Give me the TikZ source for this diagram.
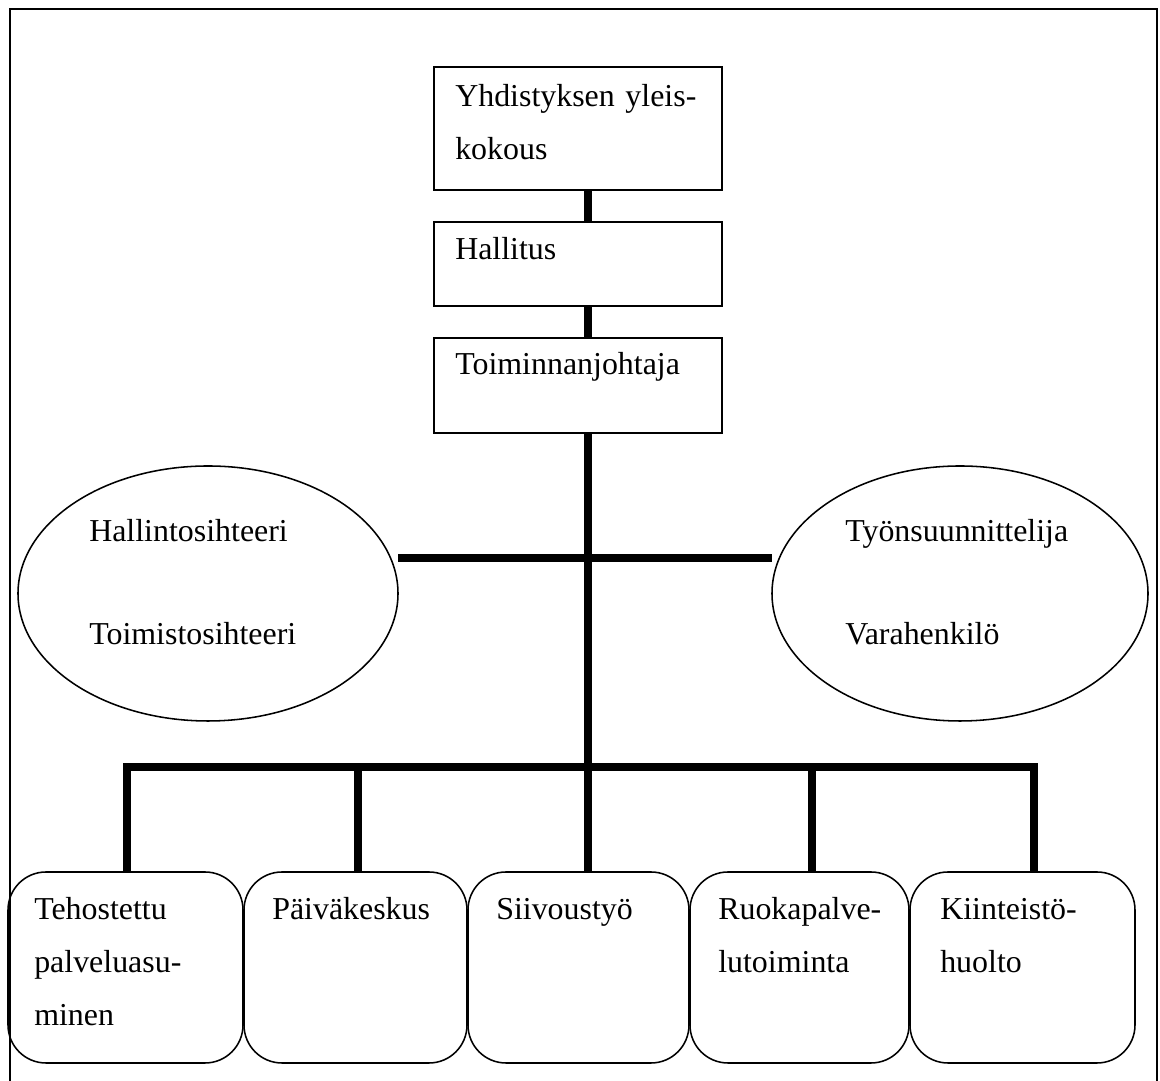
\documentclass[tikz,border=0pt]{standalone}
\usepackage{fontspec}
\setmainfont{Liberation Serif}
\usepackage{tikz}
\usetikzlibrary{positioning}
\usetikzlibrary{shapes.geometric}

\begin{document}
\begin{tikzpicture}[
  every node/.style={font=\fontsize{22.7}{37.7}\selectfont},
  plainbox/.style={draw,line width=1.1pt,inner sep=0pt},
  roundbox/.style={draw,line width=1.1pt,inner sep=0pt,rounded corners=0.95cm,minimum height=4.775cm},
  oval/.style={draw,ellipse,line width=1.1pt,inner sep=0pt,minimum height=6.375cm},
  txt/.style={anchor=base west,align=left,inner sep=0pt,text width=7cm},
  conn/.style={line width=5.3pt}
]
  \useasboundingbox (0,0) rectangle (29,27.025);

  % page frame
  \draw[line width=2.1pt] (0.25,0) -- (0.25,26.8) -- (28.925,26.8) -- (28.925,0);

  \node at (14.45,23.8125) [plainbox,minimum width=7.2cm,minimum height=3.075cm] (kokous) {};
  \node at (14.45,20.425) [plainbox,minimum width=7.2cm,minimum height=2.1cm] (hallitus) {};
  \node at (14.45,17.3875) [plainbox,minimum width=7.2cm,minimum height=2.375cm] (johtaja) {};

  \node at (11.375,24.35) [txt] (kokous-txt) {Yhdistyksen yleis-\\kokous};
  \node at (11.375,20.525) [txt] (hallitus-txt) {Hallitus};
  \node at (11.375,17.65) [txt] (johtaja-txt) {Toiminnanjohtaja};

  % staff ovals
  \node at (5.2,12.1875) [oval,minimum width=9.5cm] (hallinto) {};
  \node at (24,12.1875) [oval,minimum width=9.4cm] (tyon) {};

  \node at (2.225,13.475) [txt] (hallinto-txt) {Hallintosihteeri\\[35.4pt]Toimistosihteeri};
  \node at (21.125,13.475) [txt] (tyon-txt) {Työnsuunnittelija\\[35.4pt]Varahenkilö};

  % units
  \node at (3.1375,2.8375) [roundbox,minimum width=5.875cm] (tehostettu) {};
  \node at (8.8875,2.8375) [roundbox,minimum width=5.575cm] (paivakeskus) {};
  \node at (14.4625,2.8375) [roundbox,minimum width=5.525cm] (siivous) {};
  \node at (19.9875,2.8375) [roundbox,minimum width=5.475cm] (ruoka) {};
  \node at (25.5625,2.8375) [roundbox,minimum width=5.625cm] (kiinteisto) {};

  \node at (0.85,4.025) [txt] (tehostettu-txt) {Tehostettu\\palveluasu-\\minen};
  \node at (6.8,4.025) [txt] (paivakeskus-txt) {Päiväkeskus};
  \node at (12.4,4.025) [txt] (siivous-txt) {Siivoustyö};
  \node at (17.95,4.025) [txt] (ruoka-txt) {Ruokapalve-\\lutoiminta};
  \node at (23.5,4.025) [txt] (kiinteisto-txt) {Kiinteistö-\\huolto};

  \coordinate (axis) at (14.7,0);
  \coordinate (cross-l) at (9.95,13.075);
  \coordinate (cross-r) at (19.3,13.075);
  \coordinate (bar-l) at (3.175,7.85);
  \coordinate (bar-r) at (25.85,7.85);
  \coordinate (drop2) at (8.95,7.85);
  \coordinate (drop4) at (20.3,7.85);

  \draw[conn] (kokous.south -| axis) -- (hallitus.north -| axis);
  \draw[conn] (hallitus.south -| axis) -- (johtaja.north -| axis);
  \draw[conn] (johtaja.south -| axis) -- (siivous.north -| axis);
  \draw[conn] (cross-l) -- (cross-r);
  \draw[conn] (tehostettu.north -| bar-l) -- (bar-l) -- (bar-r) -- (kiinteisto.north -| bar-r);
  \draw[conn] (drop2) -- (paivakeskus.north -| drop2);
  \draw[conn] (drop4) -- (ruoka.north -| drop4);
\end{tikzpicture}
\end{document}
